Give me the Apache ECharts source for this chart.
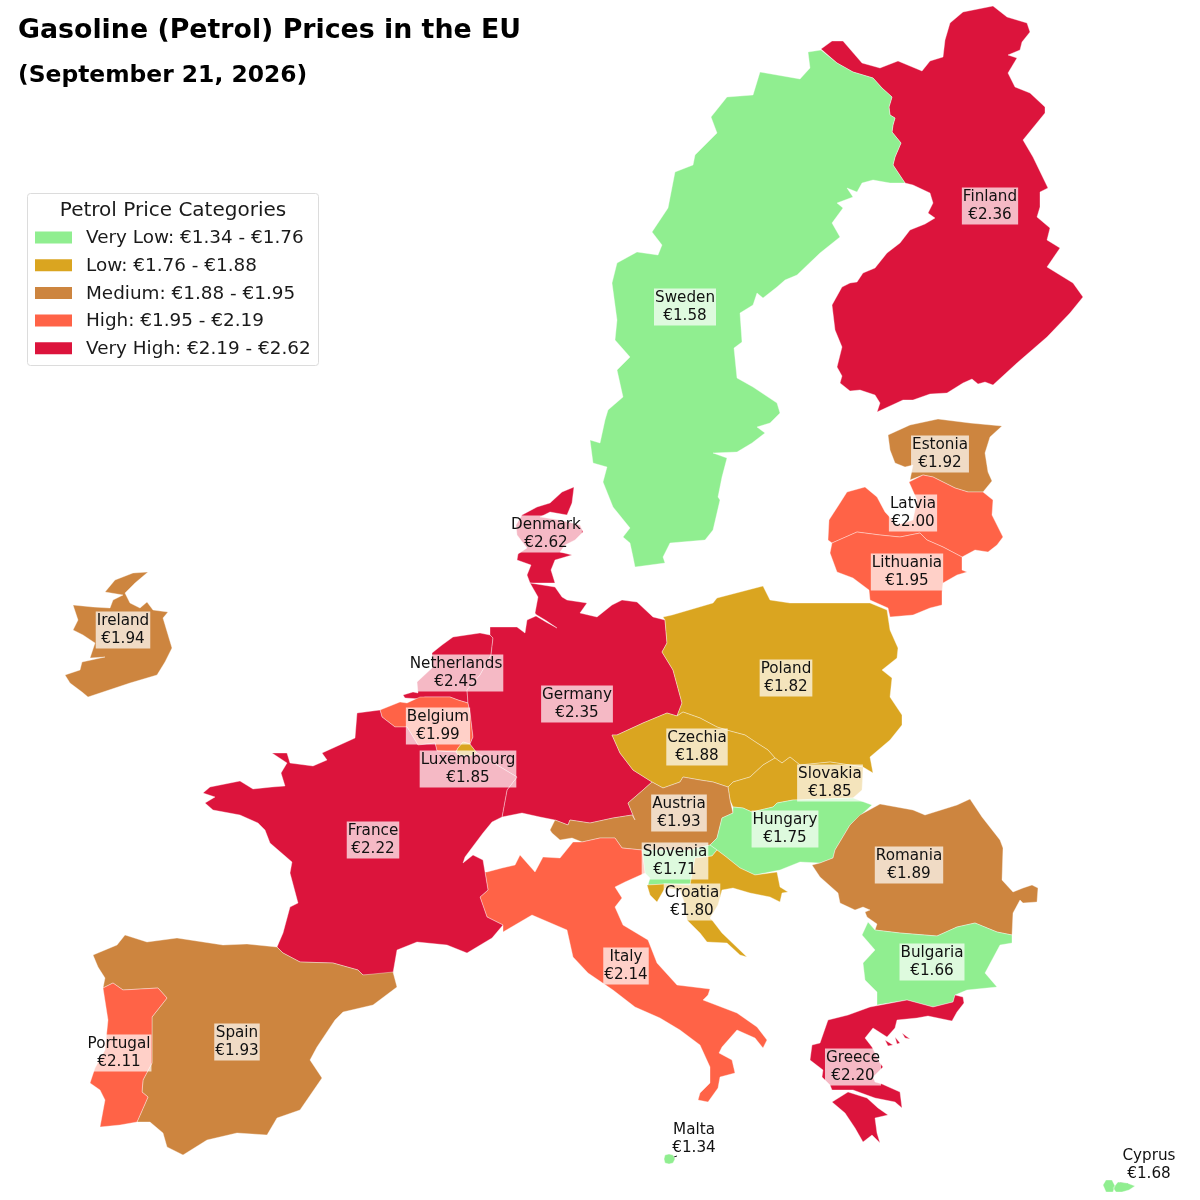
<!DOCTYPE html>
<html><head><meta charset="utf-8">
<style>html,body{margin:0;padding:0;background:#fff}#c{width:1200px;height:1200px}</style>
<script src="https://cdn.jsdelivr.net/npm/echarts@6/dist/echarts.min.js"></script>
</head><body><div id="c"></div>
<script>
const titleText = "Gasoline (Petrol) Prices in the EU";
const subtitleText = "(September 21, 2026)";
const legendTitle = "Petrol Price Categories";
const categoryNames = ["Very Low","Low","Medium","High","Very High"];
const categoryEdges = [1.34,1.76,1.88,1.95,2.19,2.62];
const categoryColors = ["#90EE90","#DAA520","#CD853F","#FF6347","#DC143C"];
const countries = ["Finland","Sweden","Estonia","Latvia","Lithuania","Denmark","Ireland","Netherlands","Belgium","Luxembourg","Germany","Poland","Czechia","Slovakia","Austria","Hungary","Slovenia","Croatia","Romania","Bulgaria","Greece","Italy","France","Spain","Portugal","Malta","Cyprus"];
const prices = [2.36,1.58,1.92,2.00,1.95,2.62,1.94,2.45,1.99,1.85,2.35,1.82,1.88,1.85,1.93,1.75,1.71,1.80,1.89,1.66,2.20,2.14,2.22,1.93,2.11,1.34,1.68];
const labelAnchors = {Finland:[990,206],Sweden:[685,307],Estonia:[940,454],Latvia:[913,513],Lithuania:[907,572],Denmark:[546,534],Ireland:[123,630],Netherlands:[456,673],Belgium:[438,726],Luxembourg:[468,769],Germany:[577,704],Poland:[786,678],Czechia:[697,747],Slovakia:[830,783],Austria:[679,813],Hungary:[785,829],Slovenia:[675,861],Croatia:[692,902],Romania:[909,865],Bulgaria:[932,962],Greece:[853,1067],Italy:[626,966],France:[373,840],Spain:[237,1042],Portugal:[119,1053],Malta:[694,1139],Cyprus:[1149,1165]};
const bareLabels = ["Malta","Cyprus"];
const outlines = {
Sweden:["821,50 837,63 853,72 873,78 882,88 892,97 889,107 890,115 895,118 893,125 892,132 901,143 895,157 893,165 905,183 890,183 873,180 862,183 857,192 847,188 853,197 837,203 843,208 832,223 840,237 820,253 797,275 785,280 777,287 763,298 757,293 753,305 740,313 742,342 734,348 737,378 753,387 777,403 780,413 770,423 757,427 765,433 752,443 737,452 713,453 727,458 722,477 718,497 720,500 713,530 705,540 670,543 663,557 665,563 635,567 633,557 630,543 623,537 630,528 613,507 603,482 607,467 593,463 590,440 600,443 605,420 608,410 623,397 617,370 630,357 615,340 617,320 612,283 617,263 637,252 658,255 662,245 652,232 668,208 675,172 693,165 695,155 717,133 711,117 727,97 753,95 760,72 800,79 810,68 808,52"],
Finland:["821,49 832,41 843,41 862,63 880,68 898,61 922,71 930,61 943,57 945,40 950,23 963,12 993,6 1007,17 1027,23 1030,32 1022,42 1020,50 1008,55 1017,58 1008,73 1015,87 1030,93 1045,107 1045,113 1023,140 1033,157 1048,188 1040,192 1040,207 1037,217 1050,228 1047,240 1060,248 1047,267 1073,283 1083,297 1070,313 1047,337 1017,363 993,385 985,382 978,384 972,379 963,383 955,388 947,393 930,394 913,400 903,400 890,406 877,412 880,403 875,395 860,390 850,391 840,383 842,376 837,367 842,347 835,330 832,305 842,287 850,283 857,282 863,273 875,268 887,253 900,243 910,230 925,224 935,218 928,213 933,203 930,193 913,185 905,183 893,165 895,157 901,143 892,132 893,125 895,118 890,115 889,107 892,97 882,88 873,78 853,72 837,63"],
Estonia:["888,435 910,425 938,419 970,423 1002,426 990,437 985,453 988,472 992,481 983,492 968,492 955,488 933,477 923,475 910,480 913,465 905,467 895,463 890,450"],
Latvia:["828,540 829,520 840,503 847,492 865,487 877,497 885,512 897,525 913,520 917,500 909,482 923,475 933,477 955,488 968,492 983,492 993,500 992,515 1003,537 997,545 988,552 975,550 962,557 943,547 927,540 920,533 900,537 880,535 857,532 832,543"],
Lithuania:["832,543 857,532 880,535 900,537 920,533 927,540 943,547 962,557 962,570 967,572 957,575 943,583 942,592 942,605 930,608 913,615 890,617 888,608 870,600 869,590 853,578 837,572 830,553"],
Denmark:["522,515 537,507 550,503 562,492 574,487 572,503 567,515 550,512 540,517 560,520 580,525 583,532 575,540 565,545 560,552 572,555 555,560 551,570 555,583 530,583 527,575 531,565 517,560 518,554 527,548 517,535 516,525"],
Ireland:["148,572 135,583 125,593 130,603 140,608 147,602 153,610 168,612 163,618 172,648 165,662 157,675 130,683 88,697 82,692 70,683 65,675 80,670 82,662 105,657 90,658 95,643 83,635 73,630 78,620 73,605 93,607 110,608 113,600 123,595 105,592 115,580 133,573"],
Netherlands:["432,653 442,645 453,637 480,633 490,635 493,638 491,655 480,675 467,690 468,703 458,700 450,697 435,697 425,697 420,699 405,698 403,695 413,692 418,693 417,682 432,668"],
Belgium:["380,710 400,702 407,703 420,697 440,697 450,697 458,700 468,703 470,712 473,737 470,744 463,742 458,748 456,752 437,751 435,743 418,745 407,727 395,727 382,717"],
Luxembourg:["458,748 463,742 470,744 477,753 470,756 458,755 456,752"],
Germany:["530,583 555,587 562,597 567,600 587,603 580,613 597,617 612,605 622,600 637,602 653,617 665,620 667,643 662,652 673,670 682,703 677,716 667,713 643,723 617,735 612,735 620,753 633,770 652,782 643,790 628,803 635,820 632,815 613,818 590,823 570,820 568,825 555,820 540,817 522,813 502,817 507,790 517,777 477,753 470,744 473,737 470,712 468,703 467,690 480,675 491,655 493,638 490,635 490,627 517,627 525,633 527,620 536,616 546,622 557,628 546,620.5 536,614.5 535,613 538,597"],
Poland:["663,617 672,615 713,603 717,598 763,586 770,600 790,603 870,603 887,610 890,630 898,648 897,658 882,670 892,678 890,697 902,715 902,725 890,740 870,757 873,773 863,767 830,762 800,765 790,757 782,763 775,758 768,750 757,743 745,735 730,731 717,727 700,718 683,712 677,716 682,703 673,670 662,652 667,643 665,620"],
Czechia:["612,735 617,735 643,723 667,713 677,716 683,712 700,718 717,727 730,731 745,735 757,743 768,750 775,758 763,765 750,777 733,782 728,787 713,782 700,780 683,777 680,782 663,788 652,782 633,770 620,753"],
Slovakia:["775,758 782,763 790,757 800,765 830,762 863,767 862,790 853,798 800,800 793,800 777,803 773,807 752,812 743,808 733,807 730,800 728,787 733,782 750,777 763,765"],
Austria:["550,830 555,820 568,825 570,820 590,823 613,818 632,815 635,820 628,803 643,790 652,782 663,788 680,782 683,777 700,780 713,782 728,787 730,800 733,813 722,818 717,838 710,845 690,850 642,850 622,848 615,838 600,838 582,842 572,838 560,840 552,833"],
Hungary:["733,807 743,808 752,812 773,807 777,803 793,800 853,798 872,805 850,825 835,850 833,858 820,863 800,862 780,870 755,875 740,868 725,856 717,850 710,845 717,838 722,818 733,813"],
Slovenia:["642,850 690,850 710,845 717,850 712,856 695,858 690,885 665,884 648,885 650,878 645,873"],
Croatia:["647,885 665,884 690,885 695,858 712,856 717,850 725,856 740,868 755,875 777,872 780,887 788,892 782,893 780,902 770,897 750,893 733,888 722,890 718,905 710,918 712,920 722,933 747,957 740,955 727,943 707,942 700,933 687,920 685,905 680,890 665,888 657,902 650,895"],
Romania:["812,865 820,863 833,858 835,850 850,825 860,815 880,804 913,810 925,815 957,805 970,799 982,817 1000,840 1003,848 1002,880 1013,892 1023,888 1032,885 1038,888 1037,902 1023,903 1020,900 1013,913 1012,935 997,932 975,923 957,927 937,936 900,933 875,930 877,924 867,917 865,912 870,910 863,907 855,910 840,903 838,893 820,877"],
Bulgaria:["868,922 875,930 900,933 937,936 957,927 975,923 997,932 1012,935 1012,943 1000,945 985,973 997,987 967,990 955,995 953,1002 933,1007 907,1000 877,1005 877,992 865,980 863,963 875,950 862,935"],
Greece:["870,1007 907,1000 933,1007 953,1002 955,995 963,997 964,1003 957,1012 952,1021 928,1016 917,1018 897,1020 895,1028 887,1037 873,1028 865,1038 872,1047 880,1063 883,1067 873,1077 875,1082 882,1084 900,1092 902,1108 895,1102 875,1098 853,1090 832,1090 830,1085 822,1077 823,1070 810,1060 812,1045 820,1043 828,1020 848,1015","832,1102 848,1092 867,1098 878,1108 888,1115 875,1118 877,1133 880,1143 872,1135 863,1142 855,1128 845,1113","885,1040 893,1045 888,1046","895,1037 900,1043 897,1044","902,1033 910,1039 905,1038"],
Italy:["487,872 502,868 515,865 520,855 535,872 543,857 560,858 573,842 582,842 600,838 615,838 622,848 642,850 645,873 625,882 615,887 622,898 615,907 623,925 648,940 657,963 677,985 710,989 708,995 703,1000 737,1013 757,1027 767,1040 763,1048 755,1038 737,1030 722,1047 719,1053 732,1060 735,1073 720,1077 718,1088 708,1102 698,1100 700,1093 710,1083 710,1067 700,1045 680,1030 660,1018 635,1007 613,990 588,973 573,957 567,930 532,915 503,932 503,925 487,917 480,897 488,890 485,872"],
France:["357,713 380,710 382,717 395,727 407,727 418,745 435,743 437,751 456,752 458,755 470,756 477,753 517,777 507,790 502,817 492,822 483,833 465,857 463,863 473,855 483,860 485,872 488,890 480,897 487,917 503,925 492,938 467,953 447,945 417,942 397,950 393,973 382,975 363,975 358,970 333,963 300,962 283,953 277,947 283,933 290,907 298,903 290,873 292,862 270,843 265,830 258,823 240,815 213,810 205,803 215,797 203,793 210,787 240,781 253,789 272,787 285,786 281,773 287,763 272,753 287,753 290,763 313,766 327,760 322,753 355,738"],
Spain:["93,955 117,945 125,935 147,942 177,938 223,945 247,944 277,947 283,953 300,962 333,963 358,970 363,975 393,972 397,987 373,1005 343,1012 335,1020 317,1047 310,1060 322,1078 300,1110 277,1118 267,1135 237,1133 207,1140 183,1155 167,1147 163,1133 150,1122 137,1122 148,1097 142,1092 143,1080 152,1063 152,1017 167,998 158,988 123,990 113,983 103,988 105,978 98,967"],
Portugal:["103,988 113,983 123,990 158,988 167,998 152,1017 152,1063 143,1080 142,1092 148,1097 137,1122 120,1125 100,1127 105,1100 100,1090 90,1083 95,1068 105,1050 108,1020"],
Malta:["669,1154 673,1155 675,1159 673,1163 669,1164 665,1163 664,1159 665,1155"],
Cyprus:["1103,1185 1106,1180 1112,1180 1115,1186 1113,1192 1106,1192","1113,1188 1118,1182 1127,1183 1135,1186 1129,1190 1122,1192 1116,1192"]
};

const categoryOf = p => p <= categoryEdges[1] ? 0 : p <= categoryEdges[2] ? 1 : p < categoryEdges[3] ? 2 : p < categoryEdges[4] ? 3 : 4;
const parseRing = s => { const r = s.split(" ").map(t => t.split(",").map(Number)); r.push(r[0]); return r; };
const geoJson = {type:"FeatureCollection",features:countries.map(n => ({
  type:"Feature",
  properties:{name:n,cp:labelAnchors[n]},
  geometry:{type:"MultiPolygon",coordinates:outlines[n].map(s => [parseRing(s)])}
}))};
echarts.registerMap("eu", geoJson);

const FONT = "DejaVu Sans";
const legendGraphics = [
  {type:"rect",shape:{x:27.5,y:193.5,width:291,height:172,r:3},style:{fill:"#fff",stroke:"#dcdcdc",lineWidth:1}},
  {type:"text",style:{x:173,y:210.5,text:legendTitle,font:"20px '"+FONT+"'",fill:"#1a1a1a",textAlign:"center",textVerticalAlign:"middle"}}
];
categoryNames.forEach((n,i) => {
  const y = 237.5 + i*27.7;
  legendGraphics.push({type:"rect",shape:{x:35,y:y-6,width:37,height:12},style:{fill:categoryColors[i]}});
  legendGraphics.push({type:"text",style:{x:86,y:y+1,text:n+": €"+categoryEdges[i].toFixed(2)+" - €"+categoryEdges[i+1].toFixed(2),font:"18.4px '"+FONT+"'",fill:"#1a1a1a",textVerticalAlign:"middle"}});
});
const arrowGraphics = [
  {type:"line",shape:{x1:677,y1:1156,x2:671,y2:1158},style:{stroke:"#222",lineWidth:1}},
  {type:"line",shape:{x1:1128,y1:1184,x2:1120,y2:1183},style:{stroke:"#222",lineWidth:1}}
];

const chart = echarts.init(document.getElementById("c"),null,{renderer:"canvas"});
chart.setOption({
  animation:false,
  backgroundColor:"#fff",
  title:[
    {text:titleText,left:13,top:12.5,textStyle:{fontFamily:FONT,fontWeight:"bold",fontSize:26.8,color:"#000"}},
    {text:subtitleText,left:13,top:59,textStyle:{fontFamily:FONT,fontWeight:"bold",fontSize:23.4,color:"#000"}}
  ],
  graphic:legendGraphics.concat(arrowGraphics),
  series:[{
    type:"map",map:"eu",roam:false,silent:true,
    projection:{project:p=>p,unproject:p=>p},
    boundingCoords:[[0,0],[1200,1200]],
    left:0,top:0,width:1200,height:1200,
    selectedMode:false,
    emphasis:{disabled:true},
    itemStyle:{borderColor:"rgba(255,255,255,0.45)",borderWidth:0.8},
    label:{show:true,fontFamily:FONT,fontSize:15.2,lineHeight:18,color:"#111",align:"center",verticalAlign:"middle",
      backgroundColor:"rgba(255,255,255,0.7)",padding:[1,1,0,1],
      formatter:p=>p.name+"\n€"+p.value.toFixed(2)},
    data:countries.map((n,i)=>({
      name:n,value:prices[i],
      itemStyle:{areaColor:categoryColors[categoryOf(prices[i])]},
      label:bareLabels.includes(n)?{backgroundColor:"transparent"}:undefined
    }))
  }]
});
</script></body></html>
